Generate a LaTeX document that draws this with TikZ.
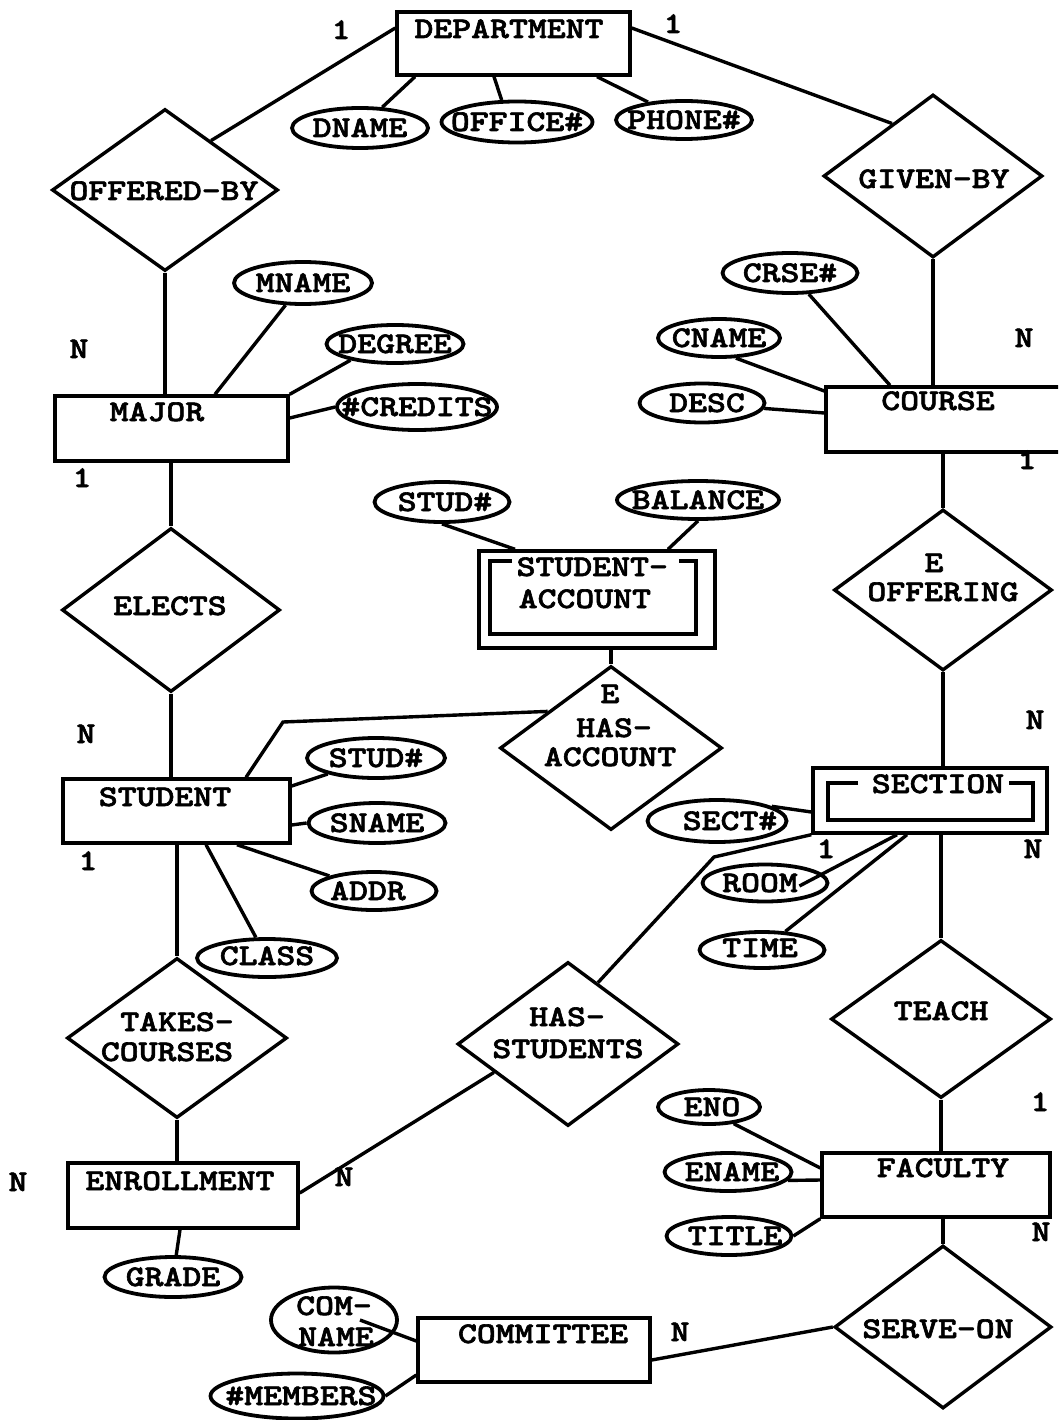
\documentclass[tikz,border=0pt]{standalone}
\usepackage{fontspec}
\usetikzlibrary{shapes.geometric,fit}
% bold typewriter face, widened to a Courier-like pitch and darkened
\newfontfamily\ertt[FakeStretch=1.2,FakeBold=2]{lmmonolt10-bold.otf}

\begin{document}
\begin{tikzpicture}[x=1pt,y=-1pt,line width=3.4pt,
  font=\ertt\fontsize{30}{32}\selectfont,
  ent/.style={draw,rectangle,inner sep=0pt},
  rel/.style 2 args={draw,diamond,inner sep=0pt,minimum width=#1,minimum height=#2},
  attr/.style 2 args={draw,ellipse,inner sep=0pt,line width=3.8pt,minimum width=#1,minimum height=#2},
  txt/.style={inner sep=0pt,text height=18pt,text depth=0pt},
  every label/.style={txt},
  card/.style={txt}]

\fill[white] (0,0) rectangle (1058,1420);
\useasboundingbox (0,0) rectangle (1058,1420);
\clip (0,0) rectangle (1058,1420);

% ---------- entities ----------
\node[ent,fit={(397,12) (630,75)}] (dept) {};
\node[txt] (deptT) at (509,29) {DEPARTMENT};
\node[ent,fit={(55,396) (288,461)}] (major) {};
\node[txt] (majorT) at (157,412) {MAJOR};
\node[ent,fit={(63,779) (290,843)}] (student) {};
\node[txt] (studentT) at (165,797) {STUDENT};
\node[ent,fit={(826,387) (1080,452)}] (course) {};
\node[txt] (courseT) at (938,401) {COURSE};
\node[ent,fit={(68,1163) (298,1228)}] (enroll) {};
\node[txt] (enrollT) at (180,1181) {ENROLLMENT};
\node[ent,fit={(822,1153) (1050,1217)}] (faculty) {};
\node[txt] (facultyT) at (943,1168) {FACULTY};
\node[ent,fit={(418,1318) (650,1382)}] (committee) {};
\node[txt] (committeeT) at (543,1334) {COMMITTEE};

% ---------- weak entities ----------
\node[ent,fit={(479,551) (715,648)}] (sacct) {};
\draw (512,561) -- (490,561) -- (490,634) -- (696,634) -- (696,561) -- (679,561);
\node[txt,anchor=west] (sacctA) at (515,567) {STUDENT-};
\node[txt,anchor=west] (sacctB) at (517,599) {ACCOUNT};
\node[ent,fit={(813,768) (1047,833)}] (section) {};
\draw (858,783) -- (828,783) -- (828,820) -- (1033,820) -- (1033,783) -- (1009,783);
\node[txt] (sectionT) at (938,784) {SECTION};

% ---------- relationships ----------
\node[rel={226pt}{162pt}] (offby) at (165,190) {};
\node[txt] (offbyT) at (164,191) {OFFERED-BY};
\node[rel={219pt}{163pt}] (givenby) at (933,176) {};
\node[txt] (givenbyT) at (934,179) {GIVEN-BY};
\node[rel={218pt}{164pt}] (elects) at (171,610) {};
\node[txt] (electsT) at (170,606) {ELECTS};
\node[rel={222pt}{164pt}] (hasacc) at (611,748) {};
\node[txt] (hasaccE) at (610,694) {E};
\node[txt] (hasaccA) at (614,728) {HAS-};
\node[txt] (hasaccB) at (610,757) {ACCOUNT};
\node[rel={218pt}{161pt}] (offering) at (943,590) {};
\node[txt] (offeringE) at (934,563) {E};
\node[txt] (offeringT) at (943,592) {OFFERING};
\node[rel={221pt}{164pt}] (hasstud) at (568,1044) {};
\node[txt] (hasstudA) at (567,1017) {HAS-};
\node[txt] (hasstudB) at (568,1049) {STUDENTS};
\node[rel={220pt}{160pt}] (takes) at (177,1038) {};
\node[txt] (takesA) at (177,1022) {TAKES-};
\node[txt] (takesB) at (167,1052) {COURSES};
\node[rel={220pt}{158pt}] (teach) at (941,1019) {};
\node[txt] (teachT) at (941,1011) {TEACH};
\node[rel={217pt}{163pt}] (serveon) at (943,1327) {};
\node[txt] (serveonT) at (938,1329) {SERVE-ON};

% ---------- attributes ----------
\node[attr={136pt}{40pt},label=center:DNAME] (dname) at (360,128) {};
\node[attr={151pt}{41pt},label=center:OFFICE\#] (office) at (517,122) {};
\node[attr={136pt}{38pt},label=center:PHONE\#] (phone) at (684,120) {};
\node[attr={138pt}{42pt},label=center:MNAME] (mname) at (303,283) {};
\node[attr={137pt}{38pt},label=center:DEGREE] (degree) at (395,344) {};
\node[attr={160pt}{46pt},label=center:\#CREDITS] (credits) at (417,407) {};
\node[attr={135pt}{40pt},label=center:CRSE\#] (crse) at (790,273) {};
\node[attr={122pt}{38pt},label=center:CNAME] (cname) at (719,338) {};
\node[attr={125pt}{39pt},label={[xshift=5pt]center:DESC}] (desc) at (702,403) {};
\node[attr={135pt}{40pt},label={[xshift=3pt]center:STUD\#}] (stud1) at (442,502) {};
\node[attr={162pt}{38pt},label=center:BALANCE] (balance) at (698,500) {};
\node[attr={138pt}{40pt},label=center:STUD\#] (stud2) at (376,758) {};
\node[attr={137pt}{40pt},label=center:SNAME] (sname) at (377,823) {};
\node[attr={125pt}{38pt},label={[xshift=-6pt]center:ADDR}] (addr) at (374,891) {};
\node[attr={140pt}{38pt},label={[yshift=2pt]center:CLASS}] (class) at (267,958) {};
\node[attr={139pt}{42pt},label={[xshift=13pt]center:SECT\#}] (sect) at (717,821) {};
\node[attr={125pt}{37pt},label={[xshift=-5pt]center:ROOM}] (room) at (765,883) {};
\node[attr={125pt}{36pt},label={[xshift=-2pt,yshift=2pt]center:TIME}] (time) at (762,950) {};
\node[attr={102pt}{34pt},label={[xshift=3pt]center:ENO}] (eno) at (709,1107) {};
\node[attr={127pt}{38pt},label={[xshift=4pt]center:ENAME}] (ename) at (728,1172) {};
\node[attr={125pt}{38pt},label={[xshift=6pt]center:TITLE}] (title) at (729,1236) {};
\node[attr={137pt}{40pt},label=center:GRADE] (grade) at (173,1277) {};
\node[attr={126pt}{65pt}] (comname) at (334,1320) {};
\node[txt] (comnameA) at (334,1306) {COM-};
\node[txt] (comnameB) at (336,1337) {NAME};
\node[attr={173pt}{45pt},label={[xshift=4pt]center:\#MEMBERS}] (members) at (297,1396) {};

% ---------- cardinalities ----------
\node[card] (c1) at (341,30) {1};
\node[card] (c2) at (673,24) {1};
\node[card] (c3) at (79,349) {N};
\node[card] (c4) at (82,478) {1};
\node[card] (c5) at (1024,338) {N};
\node[card] (c6) at (1027,460) {1};
\node[card] (c7) at (86,734) {N};
\node[card] (c8) at (88,861) {1};
\node[card] (c9) at (1035,720) {N};
\node[card] (c10) at (1033,849) {N};
\node[card] (c11) at (826,849) {1};
\node[card] (c12) at (18,1182) {N};
\node[card] (c13) at (344,1177) {N};
\node[card] (c14) at (680,1332) {N};
\node[card] (c15) at (1040,1102) {1};
\node[card] (c16) at (1041,1232) {N};

% ---------- connectors ----------
\coordinate (bendS) at (283,722);
\coordinate (bendC) at (714,857);

\draw (dept.west |- 0,28) -- (offby.47);
\draw (dept.east |- 0,28) -- (givenby.128);
\draw (dept.south -| 415,0) -- (dname);
\draw (dept.south -| 494,0) -- (office.125);
\draw (dept.south -| 597,0) -- (phone);

\draw (offby.south) -- (offby.south |- major.north);
\draw (major.north -| 215,0) -- (mname);
\draw (major.north east) -- (degree.200);
\draw (major.east |- 0,418) -- (credits.west);
\draw (major.south -| elects.north) -- (elects.north);

\draw (elects.south) -- (elects.south |- student.north);
\draw (student.east |- 0,786) -- (stud2);
\draw (student.east |- 0,825) -- (sname.west);
\draw (student.south -| 237,0) -- (addr);
\draw (student.south -| 206,0) -- (class);
\draw (student.north -| 246,0) -- (bendS) -- (hasacc.150);
\draw (takes.north |- student.south) -- (takes.north);

\draw (sacct.south -| hasacc.north) -- (hasacc.north);
\draw (stud1.south) -- (sacct.north -| 515,0);
\draw (balance.south) -- (sacct.north -| 668,0);

\draw (givenby.south) -- (givenby.south |- course.north);
\draw (course.north -| 890,0) -- (crse);
\draw (course.west |- 0,391) -- (cname.-50);
\draw (course.west |- 0,413) -- (desc.-5);
\draw (course.south -| offering.north) -- (offering.north);

\draw (offering.south) -- (offering.south |- section.north);
\draw (section.west |- 0,812) -- (sect.15);
\draw (section.south -| 897,0) -- ([xshift=-30pt,yshift=-3pt]room.east);
\draw (section.south -| 907,0) -- (time);
\draw (section.south west) -- (bendC) -- (hasstud.64);
\draw (section.south -| teach.north) -- (teach.north);

\draw (teach.south) -- (teach.south |- faculty.north);
\draw (faculty.west |- 0,1168) -- (eno.-34);
\draw (faculty.west |- 0,1180) -- (ename.-8);
\draw (faculty.south west) -- (title.east);
\draw (faculty.south -| serveon.north) -- (serveon.north);

\draw (serveon.west) -- (committee.east |- 0,1360);
\draw (committee.west |- 0,1341) -- ([xshift=26pt]comname.center);
\draw (committee.west |- 0,1375) -- (members.east);

\draw (hasstud.201) -- (enroll.east |- 0,1193);
\draw (takes.south) -- (takes.south |- enroll.north);
\draw (enroll.south -| 180,0) -- (grade);
\end{tikzpicture}
\end{document}
